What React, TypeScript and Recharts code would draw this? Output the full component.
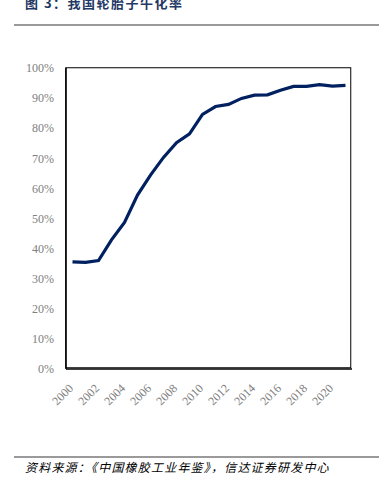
import React from "react";
import { LineChart, Line, XAxis, YAxis } from "recharts";

const years = [
  "2000", "2001", "2002", "2003", "2004", "2005", "2006", "2007", "2008", "2009", "2010",
  "2011", "2012", "2013", "2014", "2015", "2016", "2017", "2018", "2019", "2020", "2021",
];
const radialRate = [
  35.6, 35.4, 36.0, 42.9, 48.7, 57.8, 64.4, 70.3, 75.2, 78.1, 84.6,
  87.2, 87.9, 89.9, 91.0, 91.1, 92.6, 93.9, 93.9, 94.5, 94.0, 94.2,
];
const yTicks = [0, 10, 20, 30, 40, 50, 60, 70, 80, 90, 100];
const title = "图 3：我国轮胎子午化率";
const source = "资料来源：《中国橡胶工业年鉴》，信达证券研发中心";

const data = years.map((y, i) => ({ year: y, rate: radialRate[i] }));

const tickStyle = {
  fontFamily: "'Liberation Serif', serif",
  fontSize: 12,
  fill: "#808080",
};

const XTick = (props: any) => {
  const { x, payload } = props;
  const ax = x + 1.5;
  const ay = 389;
  return (
    <text
      x={ax}
      y={ay}
      textAnchor="end"
      transform={`rotate(-45, ${ax}, ${ay})`}
      style={tickStyle}
      fill="#808080"
    >
      {payload.value}
    </text>
  );
};

export default function App() {
  return (
    <div style={{ position: "absolute", left: 0, top: 0, width: 384, height: 489, background: "#fff", overflow: "hidden" }}>
      <div
        style={{
          position: "absolute",
          left: 25,
          top: -7,
          fontFamily: "'Noto Sans CJK SC', sans-serif",
          fontWeight: 700,
          fontSize: 13,
          letterSpacing: 1.5,
          color: "#1f3864",
          whiteSpace: "nowrap",
        }}
      >
        {title}
      </div>
      <div style={{ position: "absolute", left: 14, top: 24, width: 365, height: 2, background: "#9a9a9a" }} />
      <div style={{ position: "absolute", left: 0, top: 0 }}>
        <LineChart width={384} height={489} data={data} margin={{ top: 68, right: 32, left: 0, bottom: 80 }}>
          <XAxis
            dataKey="year"
            scale="band"
            interval={1}
            tickLine={false}
            axisLine={{ stroke: "#000", strokeWidth: 1.5 }}
            tick={<XTick />}
            height={40}
          />
          <YAxis
            domain={[0, 100]}
            ticks={yTicks}
            tickFormatter={(v: number) => `${v}%`}
            tickLine={false}
            axisLine={{ stroke: "#000", strokeWidth: 1.5 }}
            tick={tickStyle}
            width={66}
            tickMargin={6}
          />
          <Line
            type="linear"
            dataKey="rate"
            stroke="#002060"
            strokeWidth={3.2}
            dot={false}
            isAnimationActive={false}
          />
        </LineChart>
      </div>
      <div
        style={{
          position: "absolute",
          left: 66,
          top: 68,
          width: 286,
          height: 301,
          border: "1.5px solid #000",
          boxSizing: "border-box",
          pointerEvents: "none",
          transform: "translate(-0.75px, -0.75px)",
        }}
      />
      <div style={{ position: "absolute", left: 14, top: 456, width: 365, height: 1.5, background: "#9a9a9a" }} />
      <div
        style={{
          position: "absolute",
          left: 25,
          top: 458,
          fontFamily: "'Noto Sans CJK SC', sans-serif",
          fontStyle: "italic",
          fontSize: 12,
          letterSpacing: 1.2,
          color: "#000",
          whiteSpace: "nowrap",
        }}
      >
        {source}
      </div>
    </div>
  );
}
